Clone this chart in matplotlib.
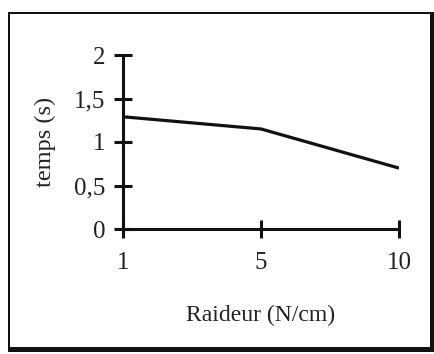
import matplotlib
matplotlib.use("Agg")
import matplotlib.pyplot as plt
from matplotlib.patches import Rectangle

raideur = ["1", "5", "10"]
temps = [1.29, 1.15, 0.70]
y_ticks = [0, 0.5, 1, 1.5, 2]
y_labels = ["0", "0,5", "1", "1,5", "2"]

W, H = 435, 354
plt.rcParams["font.family"] = ["Liberation Serif", "DejaVu Serif"]

fig = plt.figure(figsize=(W / 100, H / 100), dpi=100)
fig.patch.set_facecolor("white")


def box(x0, y0, x1, y1, color):
    # pixel coords (top-left origin) -> figure coords
    fig.patches.append(Rectangle((x0 / W, 1 - y1 / H), (x1 - x0) / W, (y1 - y0) / H,
                                 transform=fig.transFigure, facecolor=color,
                                 edgecolor="none", zorder=-5))


# frame with drop shadow
box(8, 12, 435, 352, "#111111")
box(10, 14, 430, 347, "white")

ax = fig.add_axes([123 / W, 1 - 229 / H, 276 / W, 174 / H])
ax.set_zorder(5)
ax.set_facecolor("none")
x = list(range(len(raideur)))
ax.plot(x, temps, color="#111111", linewidth=2.3, solid_capstyle="butt")

ax.set_xlim(0, len(raideur) - 1)
ax.set_ylim(0, 2)
ax.set_xticks(x)
ax.set_xticklabels(raideur)
ax.set_yticks(y_ticks)
ax.set_yticklabels(y_labels)

for side in ["top", "right"]:
    ax.spines[side].set_visible(False)
for side in ["left", "bottom"]:
    ax.spines[side].set_linewidth(2.2)
    ax.spines[side].set_color("#111111")

ax.tick_params(direction="inout", length=13, width=2.2, color="#111111",
               labelsize=18, labelcolor="#222222")
ax.tick_params(axis="y", pad=6)
ax.tick_params(axis="x", pad=10)

ax.set_ylabel("temps (s)", fontsize=17.5, color="#222222", labelpad=13)
ax.set_xlabel("Raideur (N/cm)", fontsize=17, color="#222222", labelpad=22)

fig.savefig("out.png", dpi=100)
